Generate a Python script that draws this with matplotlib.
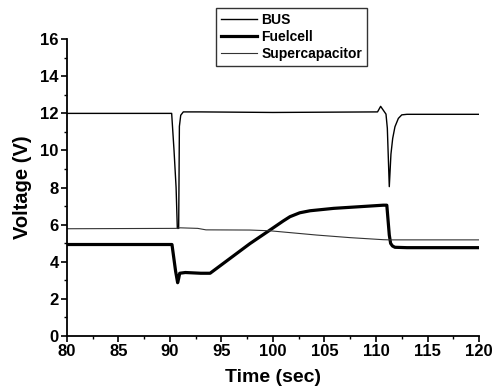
import matplotlib
matplotlib.use("Agg")
import matplotlib.pyplot as plt
from matplotlib.ticker import MultipleLocator

plt.rcParams['font.family'] = ['Liberation Sans', 'DejaVu Sans']
plt.rcParams['font.weight'] = 'bold'

# Bus voltage (V) versus time (s)
bus_t = [80, 90.17, 90.4, 90.6, 90.72, 90.85, 90.92, 91.05, 91.3, 93, 100,
         110.15, 110.45, 110.97, 111.1, 111.29, 111.45, 111.62, 111.84,
         112.17, 112.5, 113, 120]
bus_v = [12.0, 12.0, 10.0, 8.0, 5.8, 5.8, 11.3, 11.9, 12.08, 12.08, 12.05,
         12.08, 12.38, 11.96, 11.2, 8.05, 9.8, 10.65, 11.28,
         11.73, 11.92, 11.95, 11.95]

# Fuel cell voltage
fc_t = [80, 90.2, 90.55, 90.75, 90.85, 90.95, 91.5, 93.0, 93.9, 97.77, 99.71,
        101.0, 101.65, 102.6, 103.6, 105.9, 108.45, 110.7, 111.05, 111.29,
        111.42, 111.6, 111.84, 113, 120]
fc_v = [4.93, 4.93, 3.5, 2.87, 3.1, 3.38, 3.42, 3.38, 3.38, 4.98, 5.71,
        6.2, 6.43, 6.64, 6.75, 6.88, 6.97, 7.05, 7.05, 5.44,
        4.99, 4.85, 4.78, 4.76, 4.76]

# Supercapacitor voltage
sc_t = [80, 90.6, 91, 92.7, 93.5, 97.77, 99.7, 104.24, 107.5, 110.7, 111.3, 120]
sc_v = [5.78, 5.8, 5.83, 5.8, 5.72, 5.71, 5.67, 5.44, 5.30, 5.19, 5.18, 5.18]

fig = plt.figure(figsize=(4.99, 3.92), dpi=100)
ax = fig.add_axes([0.134, 0.143, 0.826, 0.757])

l1, = ax.plot(bus_t, bus_v, color='black', lw=1.0, label='BUS')
l2, = ax.plot(fc_t, fc_v, color='black', lw=2.3, label='Fuelcell')
l3, = ax.plot(sc_t, sc_v, color='#333333', lw=0.8, label='Supercapacitor')

ax.set_xlim(80, 120)
ax.set_ylim(0, 16)
ax.xaxis.set_major_locator(MultipleLocator(5))
ax.xaxis.set_minor_locator(MultipleLocator(2.5))
ax.yaxis.set_major_locator(MultipleLocator(2))
ax.yaxis.set_minor_locator(MultipleLocator(1))

for side in ('top', 'right'):
    ax.spines[side].set_visible(False)
for side in ('left', 'bottom'):
    ax.spines[side].set_linewidth(1.3)

ax.tick_params(which='major', direction='out', length=4, width=1.2,
               labelsize=12, pad=2)
ax.tick_params(which='minor', direction='out', length=2.5, width=1.0)
for lab in ax.get_xticklabels() + ax.get_yticklabels():
    lab.set_fontweight('bold')

ax.set_xlabel('Time (sec)', fontsize=14, fontweight='bold', labelpad=7)
ax.set_ylabel('Voltage (V)', fontsize=14.5, fontweight='bold', labelpad=6)

leg = fig.legend(handles=[l1, l2, l3], loc='upper left',
                 bbox_to_anchor=(0.433, 0.98), fontsize=10,
                 frameon=True, fancybox=False, edgecolor='black',
                 handlelength=2.6, handletextpad=0.3, borderpad=0.35,
                 labelspacing=0.22, borderaxespad=0)
leg.get_frame().set_linewidth(1.0)
for txt in leg.get_texts():
    txt.set_fontweight('bold')

fig.savefig('out.png', dpi=100)
